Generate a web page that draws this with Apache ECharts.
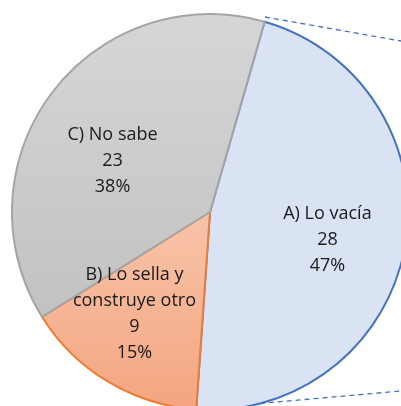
<!DOCTYPE html>
<html><head><meta charset="utf-8">
<script src="https://cdn.jsdelivr.net/npm/echarts@6/dist/echarts.min.js"></script>
<style>html,body{margin:0;padding:0;background:#fff}#c{width:401px;height:406px}</style>
</head><body><div id="c"></div>
<script>
const categories = ['A) Lo vacía', 'B) Lo sella y\nconstruye otro', 'C) No sabe'];
const values = [28, 9, 23];
const percents = ['47%', '15%', '38%'];

const fills = [
  '#DAE3F3',
  {type:'linear',x:0,y:0,x2:0,y2:1,colorStops:[{offset:0,color:'#F8C4AA'},{offset:1,color:'#F4A580'}]},
  {type:'linear',x:0,y:0,x2:0,y2:1,colorStops:[{offset:0,color:'#D6D6D6'},{offset:1,color:'#C2C2C2'}]}
];
const borders = ['#4472C4', '#ED7D31', '#A5A5A5'];
const labelShift = [[17, 10], [-23, 14], [-16, 10]];

const chart = echarts.init(document.getElementById('c'));
chart.setOption({
  animation: false,
  series: [{
    type: 'pie',
    center: [210, 212],
    radius: 198,
    startAngle: 74,
    clockwise: true,
    silent: true,
    label: {
      show: true,
      position: 'inside',
      fontFamily: 'Open Sans',
      fontSize: 18,
      lineHeight: 26,
      color: '#1a1a1a',
      formatter: p => p.name + '\n' + p.value + '\n' + percents[p.dataIndex]
    },
    labelLine: {show: false},
    labelLayout: p => ({dx: labelShift[p.dataIndex][0], dy: labelShift[p.dataIndex][1]}),
    data: categories.map((c, i) => ({
      name: c, value: values[i],
      itemStyle: {color: fills[i], borderColor: borders[i], borderWidth: 2}
    }))
  }],
  graphic: [
    {type:'line', shape:{x1:265,y1:17,x2:401,y2:41}, style:{stroke:'#4472C4', lineWidth:1.3, lineDash:[5,4]}},
    {type:'line', shape:{x1:197,y1:409,x2:401,y2:391}, style:{stroke:'#4472C4', lineWidth:1.3, lineDash:[5,4]}}
  ]
});
</script></body></html>
